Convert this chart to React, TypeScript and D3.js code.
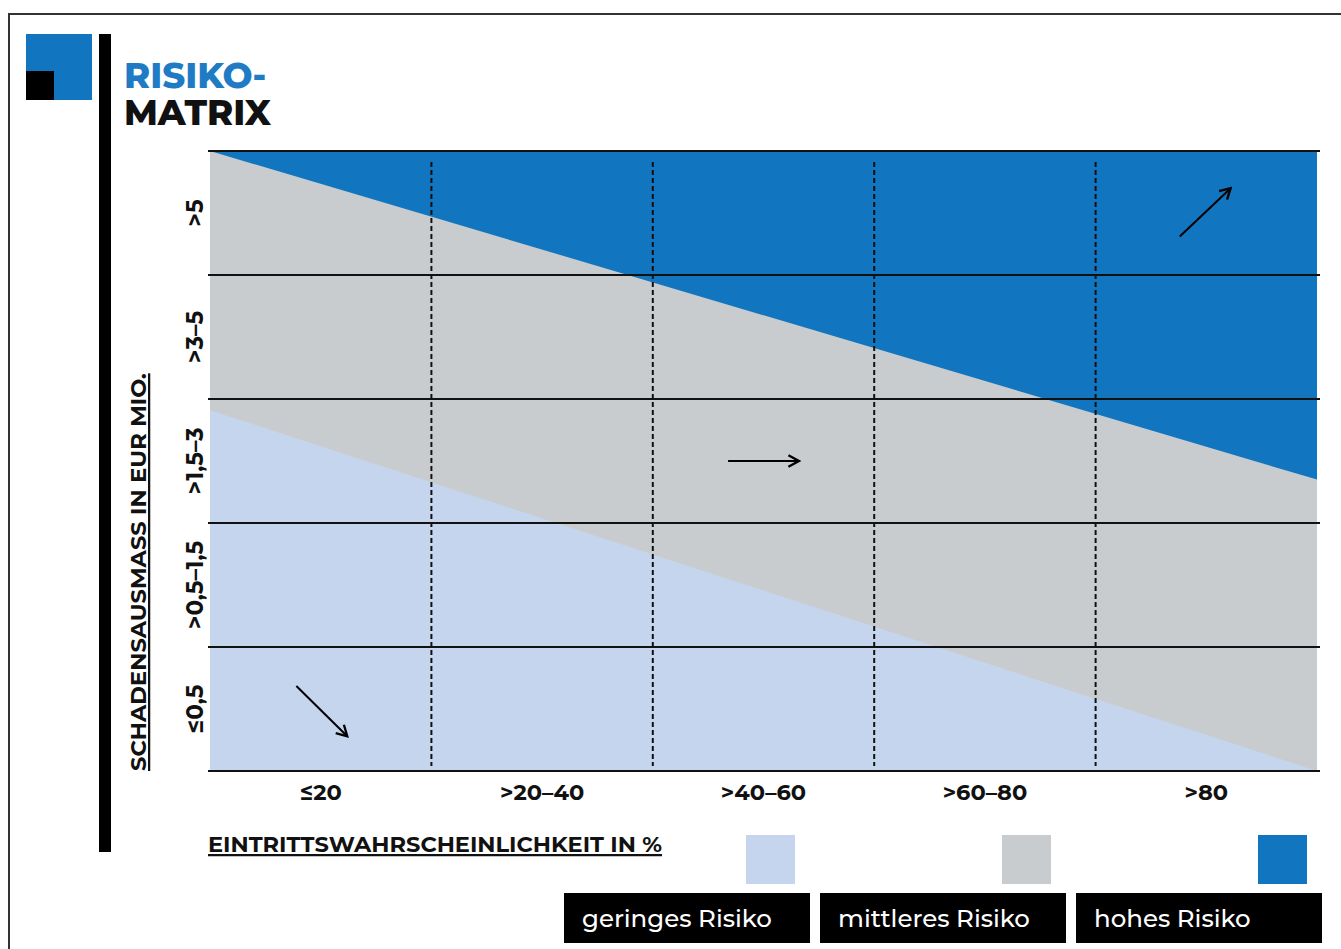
import React from "react";
import * as d3 from "d3";

const probabilityLabels = ["≤20", ">20–40", ">40–60", ">60–80", ">80"];
const damageLabels = ["≤0,5", ">0,5–1,5", ">1,5–3", ">3–5", ">5"]; // bottom to top
// zone boundaries in (column, row) units, row 0 = bottom
const highBoundary: [number, number][] = [[0, 5], [5, 2.35]];
const lowBoundary: [number, number][] = [[0, 2.91], [5, 0]];
const legendLabels = ["geringes Risiko", "mittleres Risiko", "hohes Risiko"];
const zoneColors = ["#c5d5ee", "#c9cccf", "#1176bf"];
const arrows: [number, number, number, number][] = [
  [4.38, 4.31, 4.61, 4.7],
  [2.34, 2.5, 2.66, 2.5],
  [0.39, 0.685, 0.62, 0.28],
];

const W = 1341, H = 949;
const left = 210, right = 1317, top = 151, bottom = 771;

export default function App() {
  const x = d3.scaleLinear().domain([0, 5]).range([left, right]);
  const y = d3.scaleLinear().domain([0, 5]).range([bottom, top]);
  const line = d3.line<[number, number]>().x(d => x(d[0])).y(d => y(d[1]));

  const highPoly: [number, number][] = [[0, 5], [5, 5], highBoundary[1], highBoundary[0]];
  const lowPoly: [number, number][] = [lowBoundary[0], lowBoundary[1], [0, 0]];
  const gray = [[0, 0], [5, 0], [5, 5], [0, 5]] as [number, number][];

  const font = "Montserrat, 'Open Sans', 'DejaVu Sans', sans-serif";
  const colW = x(1) - x(0);
  const rowH = y(0) - y(1);

  return (
    <svg width={W} height={H} style={{ position: "fixed", left: 0, top: 0, background: "#fff" }} fontFamily={font}>
      <defs>
        <marker id="ah" viewBox="0 0 12 12" refX="10" refY="6" markerWidth="14" markerHeight="14" markerUnits="userSpaceOnUse" orient="auto">
          <path d="M1,1 L10,6 L1,11" fill="none" stroke="#000" strokeWidth={2} />
        </marker>
      </defs>
      {/* frame */}
      <path d={`M9,${H} L9,14 L${W},14`} fill="none" stroke="#333" strokeWidth={2} />
      {/* logo */}
      <rect x={26} y={34} width={66} height={66} fill="#1176bf" />
      <rect x={26} y={71} width={28} height={29} fill="#000" />
      <rect x={99} y={34} width={12} height={818} fill="#000" />
      <text fontSize={35.5} fontWeight={800}>
        <tspan x={124} y={88} fill="#1f7cc4">RISIKO-</tspan>
        <tspan x={124} y={125} fill="#111">MATRIX</tspan>
      </text>

      {/* zones */}
      <path d={line(gray)! + "Z"} fill={zoneColors[1]} />
      <path d={line(lowPoly)! + "Z"} fill={zoneColors[0]} />
      <path d={line(highPoly)! + "Z"} fill={zoneColors[2]} />

      {/* dashed column separators */}
      {d3.range(1, 5).map(i => (
        <line key={i} x1={x(i)} x2={x(i)} y1={162} y2={766} stroke="#111" strokeWidth={2} strokeDasharray="5 3" />
      ))}
      {/* row lines */}
      {d3.range(0, 6).map(i => (
        <line key={i} x1={208} x2={1320} y1={y(i)} y2={y(i)} stroke="#111" strokeWidth={2} />
      ))}

      {/* arrows */}
      {arrows.map((a, i) => (
        <line key={i} x1={x(a[0])} y1={y(a[1])} x2={x(a[2])} y2={y(a[3])} stroke="#000" strokeWidth={2} markerEnd="url(#ah)" />
      ))}

      {/* y labels */}
      {damageLabels.map((l, i) => {
        const cy = y(i) - rowH / 2;
        return (
          <text key={l} transform={`translate(203,${cy}) rotate(-90)`} textAnchor="middle" fontSize={23} fontWeight={700} fill="#111">{l}</text>
        );
      })}
      <text transform={`translate(146,771) rotate(-90)`} fontSize={22.6} fontWeight={700} fill="#111" textDecoration="underline">SCHADENSAUSMASS IN EUR MIO.</text>

      {/* x labels */}
      {probabilityLabels.map((l, i) => (
        <text key={l} x={x(i) + colW / 2} y={800} textAnchor="middle" fontSize={22.5} fontWeight={700} fill="#111">{l}</text>
      ))}
      <text x={208} y={852} fontSize={22.5} fontWeight={700} fill="#111" textDecoration="underline">EINTRITTSWAHRSCHEINLICHKEIT IN %</text>

      {/* legend */}
      {legendLabels.map((l, i) => {
        const bx = 564 + i * 256;
        return (
          <g key={l}>
            <rect x={bx + 182} y={835} width={49} height={49} fill={zoneColors[i]} />
            <rect x={bx} y={893} width={246} height={50} fill="#000" />
            <text x={bx + 18} y={927} fontSize={24.5} fontWeight={500} fill="#fff">{l}</text>
          </g>
        );
      })}
    </svg>
  );
}
